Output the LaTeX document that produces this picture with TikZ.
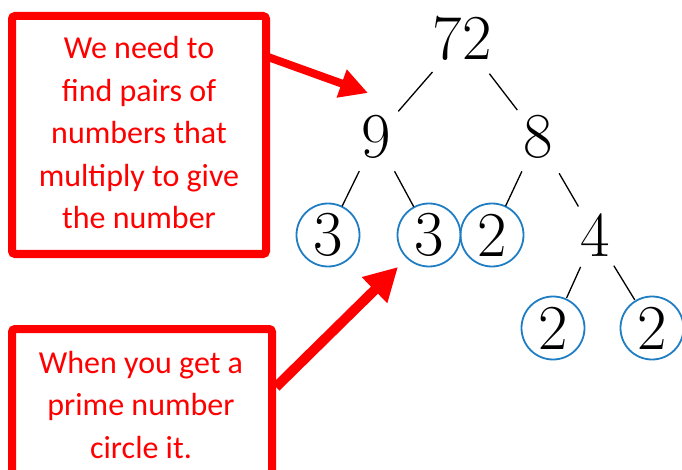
\documentclass[tikz,border=0pt]{standalone}
\usepackage{fontspec}
\newfontfamily\calib{Carlito}
\usetikzlibrary{arrows.meta}
\definecolor{circblue}{RGB}{30,125,195}
\begin{document}
\begin{tikzpicture}[x=1pt,y=-1pt,
  num/.style={font=\fontsize{64}{64}\selectfont, inner sep=0pt},
  prime/.style={num, circle, draw=circblue, line width=1.8pt, minimum size=63pt},
  conn/.style={line width=1.3pt},
  redbox/.style={draw=red, line width=8pt, rounded corners=3pt},
  note/.style={text=red, font=\calib\fontsize{32}{42.5}\selectfont, align=center, inner sep=0pt},
  redarrow/.style={draw=red, line cap=butt}
]
\useasboundingbox (0,0) rectangle (682,470);
\clip (0,0) rectangle (682,470);

% tree
\node[num] (n72) at (462,38) {72};
\node[num] (n9) at (376,137) {9};
\node[num] (n8) at (538,137) {8};
\node[prime] (p3a) at (328,235) {3};
\node[prime] (p3b) at (429,235) {3};
\node[prime] (p2a) at (492,235) {2};
\node[num] (n4) at (595,235) {4};
\node[prime] (p2b) at (553,328) {2};
\node[prime] (p2c) at (652,328) {2};

\draw[conn, shorten <=45pt, shorten >=34pt] (n72.center) -- (n9.center);
\draw[conn, shorten <=45pt, shorten >=34pt] (n72.center) -- (n8.center);
\draw[conn, shorten <=38pt, shorten >=32pt] (n9.center) -- (p3a.center);
\draw[conn, shorten <=39pt, shorten >=32pt] (n9.center) -- (p3b.center);
\draw[conn, shorten <=38pt, shorten >=32pt] (n8.center) -- (p2a.center);
\draw[conn, shorten <=42pt, shorten >=33pt] (n8.center) -- (n4.center);
\draw[conn, shorten <=35pt, shorten >=33pt] (n4.center) -- (p2b.center);
\draw[conn, shorten <=36pt, shorten >=33pt] (n4.center) -- (p2c.center);

% boxes
\node[redbox, minimum width=254pt, minimum height=238pt] (box1) at (139,135) {};
\node[note] (t1) at (139,133) {We need to\\find pairs of\\numbers that\\multiply to give\\the number};
\draw[redbox] (12,329) rectangle (272,495);
\node[note] (t2) at (141,405) {When you get a\\prime number\\circle it.};

% arrows
\coordinate (a1s) at (268,57);
\coordinate (a1e) at (368,93);
\draw[redarrow, line width=8pt, -{Triangle[length=28pt,width=28pt]}] (a1s) -- (a1e);
\coordinate (a2s) at (276,387);
\coordinate (a2e) at (398,267);
\draw[redarrow, line width=10pt, -{Triangle[length=33pt,width=34pt]}] (a2s) -- (a2e);
\end{tikzpicture}
\end{document}
